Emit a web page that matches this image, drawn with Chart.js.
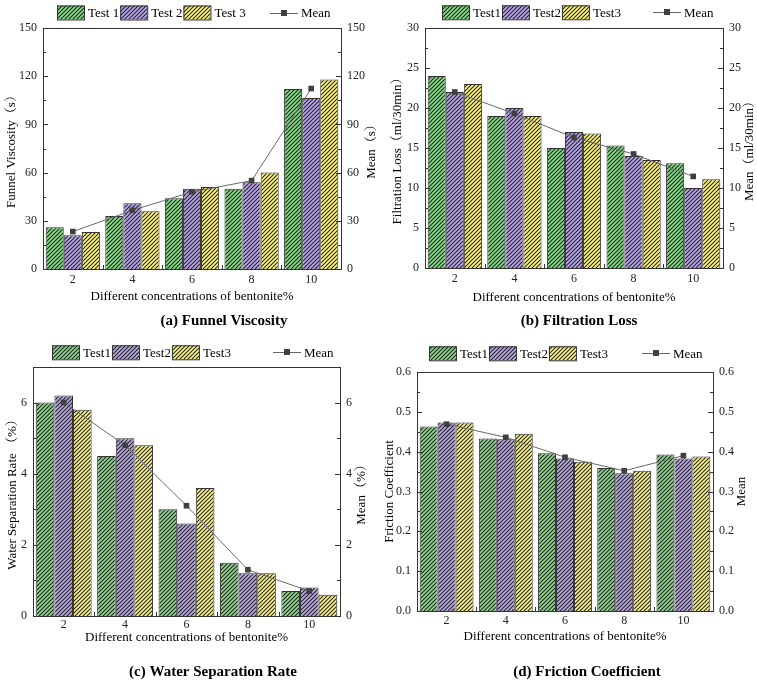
<!DOCTYPE html>
<html>
<head>
<meta charset="utf-8">
<script src="https://cdn.jsdelivr.net/npm/chart.js@4/dist/chart.umd.min.js"></script>
<style>
  body { margin: 0; background: #fff; width: 757px; height: 686px; position: relative; overflow: hidden; }
  canvas { position: absolute; }
</style>
</head>
<body>
<canvas id="chart-a" width="380" height="335" style="left:0;top:0"></canvas>
<canvas id="chart-b" width="377" height="335" style="left:380px;top:0"></canvas>
<canvas id="chart-c" width="380" height="351" style="left:0;top:335px"></canvas>
<canvas id="chart-d" width="377" height="351" style="left:380px;top:335px"></canvas>
<script>
// categorie e valori
var concentrations = ['2', '4', '6', '8', '10'];

var viscTest1 = [26, 33, 44, 50, 112];
var viscTest2 = [21, 41, 50, 54, 106.5];
var viscTest3 = [23, 36, 51, 60, 118];
var viscMean = [23.3, 36.5, 48, 55, 112.3];

var filtTest1 = [24, 19, 15, 15.3, 13.1];
var filtTest2 = [22, 20, 17, 14, 10];
var filtTest3 = [23, 19, 16.8, 13.5, 11.1];
var filtMean = [22, 19.3, 16.3, 14.25, 11.45];

var waterTest1 = [6.0, 4.5, 3.0, 1.5, 0.7];
var waterTest2 = [6.2, 5.0, 2.6, 1.2, 0.8];
var waterTest3 = [5.8, 4.8, 3.6, 1.2, 0.6];
var waterMean = [6.0, 4.8, 3.1, 1.3, 0.7];

var fricTest1 = [0.463, 0.433, 0.396, 0.359, 0.393];
var fricTest2 = [0.473, 0.431, 0.383, 0.346, 0.383];
var fricTest3 = [0.473, 0.445, 0.375, 0.352, 0.388];
var fricMean = [0.469, 0.436, 0.386, 0.352, 0.390];

// assi: min, max, passo
var viscAxis = [0, 150, 30];
var filtAxis = [0, 30, 5];
var waterAxis = [0, 7, 2];
var fricAxis = [0, 0.6, 0.1];

var testLabelsA = ['Test 1', 'Test 2', 'Test 3'];
var testLabels = ['Test1', 'Test2', 'Test3'];
var meanLabel = 'Mean';

var SERIF = "'Liberation Serif', 'Times New Roman', 'Noto Serif CJK SC', 'Noto Sans CJK SC', serif";

function hatch(color) {
    var c = document.createElement('canvas');
    c.width = 4; c.height = 4;
    var g = c.getContext('2d');
    g.fillStyle = color;
    g.fillRect(0, 0, 4, 4);
    g.strokeStyle = '#222';
    g.lineWidth = 1.05;
    g.beginPath();
    g.moveTo(0, 4); g.lineTo(4, 0);
    g.moveTo(-1, 1); g.lineTo(1, -1);
    g.moveTo(3, 5); g.lineTo(5, 3);
    g.stroke();
    return g.createPattern(c, 'repeat');
}
var fills = [hatch('#86d886'), hatch('#b8a6e8'), hatch('#fff578')];

function panelPlugin(p) {
    return {
        id: 'panel',
        afterDraw: function (chart) {
            var ctx = chart.ctx, ca = chart.chartArea;
            var y = chart.scales.y, x = chart.scales.x;
            ctx.save();
            ctx.strokeStyle = '#333';
            ctx.lineWidth = 1;
            // cornice
            ctx.strokeRect(Math.round(ca.left) + 0.5, Math.round(ca.top) + 0.5,
                Math.round(ca.right - ca.left), Math.round(ca.bottom - ca.top));
            // tacche interne
            ctx.beginPath();
            var minor = p.axis[2] / 2;
            for (var v = p.axis[0]; v <= p.axis[1] + 1e-9; v += minor) {
                var k = (v - p.axis[0]) / p.axis[2];
                var len = Math.abs(k - Math.round(k)) < 1e-6 ? 5 : 3;
                var py = Math.round(y.getPixelForValue(v)) + 0.5;
                ctx.moveTo(ca.left, py); ctx.lineTo(ca.left + len, py);
                ctx.moveTo(ca.right, py); ctx.lineTo(ca.right - len, py);
            }
            for (var i = 1; i < concentrations.length; i++) {
                var px = Math.round(x.getPixelForValue(i - 0.5)) + 0.5;
                ctx.moveTo(px, ca.bottom); ctx.lineTo(px, ca.bottom - 4);
            }
            ctx.stroke();

            // legenda
            ctx.font = '13px ' + SERIF;
            ctx.textBaseline = 'middle';
            ctx.textAlign = 'left';
            var lx = p.legend[0], ly = p.legend[1];
            for (var j = 0; j < 3; j++) {
                ctx.fillStyle = fills[j];
                ctx.fillRect(lx, ly - 7, 27, 14);
                ctx.strokeStyle = '#333';
                ctx.strokeRect(lx + 0.5, ly - 6.5, 27, 14);
                ctx.fillStyle = '#000';
                ctx.fillText(p.labels[j], lx + 31, ly + 1);
                lx += 31 + ctx.measureText(p.labels[j]).width + 1;
            }
            var mx = p.legend[2];
            ctx.strokeStyle = '#666';
            ctx.beginPath();
            ctx.moveTo(mx, Math.round(ly) + 0.5); ctx.lineTo(mx + 28, Math.round(ly) + 0.5);
            ctx.stroke();
            ctx.fillStyle = '#404040';
            ctx.fillRect(mx + 11, Math.round(ly) - 3, 6, 6);
            ctx.fillStyle = '#000';
            ctx.fillText(meanLabel, mx + 31, ly + 1);

            // titoli assi
            ctx.textAlign = 'center';
            var cy = (ca.top + ca.bottom) / 2;
            [[p.yTitle, p.yTitleX], [p.y1Title, p.y1TitleX]].forEach(function (t) {
                ctx.save();
                ctx.translate(t[1], cy);
                ctx.rotate(-Math.PI / 2);
                ctx.fillText(t[0], 0, 0);
                ctx.restore();
            });
            ctx.fillText('Different concentrations of bentonite%', (ca.left + ca.right) / 2, p.xTitleY);
            ctx.font = 'bold 15px ' + SERIF;
            ctx.fillText(p.caption, p.captionX, p.captionY);
            ctx.restore();
        }
    };
}

function makePanel(id, p) {
    var tickFont = { family: SERIF, size: 12 };
    function yScale(pos, w) {
        return {
            type: 'linear', position: pos,
            min: p.axis[0], max: p.axis[1],
            grid: { display: false, drawTicks: false }, border: { display: false },
            ticks: {
                stepSize: p.axis[2], includeBounds: false, padding: p.yPad,
                color: '#222', font: tickFont,
                callback: function (v) { return p.decimals ? v.toFixed(1) : v; }
            },
            afterFit: function (s) { s.width = w; }
        };
    }
    var datasets = [0, 1, 2].map(function (i) {
        return {
            type: 'bar', label: p.labels[i], data: p.tests[i],
            backgroundColor: fills[i], borderColor: '#333', borderWidth: 1,
            barPercentage: 1, categoryPercentage: 0.91, yAxisID: 'y', order: 1
        };
    });
    datasets.push({
        type: 'line', label: meanLabel, data: p.mean, yAxisID: 'y1', order: 0,
        borderColor: '#6a6a6a', borderWidth: 1, tension: 0,
        pointStyle: 'rect', pointRadius: 4,
        pointBackgroundColor: '#404040', pointBorderColor: '#404040', pointBorderWidth: 0
    });
    new Chart(document.getElementById(id), {
        data: { labels: concentrations, datasets: datasets },
        options: {
            responsive: false, animation: false, events: [],
            layout: { padding: { left: 0, right: 0, top: p.area[1], bottom: 0 } },
            scales: {
                x: {
                    type: 'category',
                    grid: { display: false, drawTicks: false }, border: { display: false },
                    ticks: { color: '#222', font: tickFont, padding: p.xPad, maxRotation: 0 },
                    afterFit: function (s) { s.height = p.area[3]; }
                },
                y: yScale('left', p.area[0]),
                y1: yScale('right', p.area[2])
            },
            plugins: { legend: { display: false }, tooltip: { enabled: false } }
        },
        plugins: [panelPlugin(p)]
    });
}

// area: spazio a sinistra, sopra, a destra, sotto il riquadro
makePanel('chart-a', {
    tests: [viscTest1, viscTest2, viscTest3], mean: viscMean, axis: viscAxis,
    labels: testLabelsA, area: [43, 28, 39, 66],
    yPad: 6, xPad: 4, legend: [57, 12.5, 270],
    yTitle: 'Funnel Viscosity（s）', yTitleX: 12, y1Title: 'Mean（s）', y1TitleX: 372,
    xTitleY: 297, caption: '(a) Funnel Viscosity', captionX: 224, captionY: 321
});
makePanel('chart-b', {
    tests: [filtTest1, filtTest2, filtTest3], mean: filtMean, axis: filtAxis,
    labels: testLabels, area: [45, 28, 34, 67],
    yPad: 6, xPad: 4, legend: [62, 12.3, 273],
    yTitle: 'Filtration Loss（ml/30min）', yTitleX: 18, y1Title: 'Mean（ml/30min）', y1TitleX: 370,
    xTitleY: 298, caption: '(b) Filtration Loss', captionX: 199, captionY: 321
});
makePanel('chart-c', {
    tests: [waterTest1, waterTest2, waterTest3], mean: waterMean, axis: waterAxis,
    labels: testLabels, area: [33, 32, 40, 70],
    yPad: 6, xPad: 2, legend: [52, 17.3, 273],
    yTitle: 'Water Separation Rate （%）', yTitleX: 13, y1Title: 'Mean（%）', y1TitleX: 362,
    xTitleY: 303, caption: '(c) Water Separation Rate', captionX: 213, captionY: 337
});
makePanel('chart-d', {
    tests: [fricTest1, fricTest2, fricTest3], mean: fricMean, axis: fricAxis, decimals: true,
    labels: testLabels, area: [37, 37, 44, 75],
    yPad: 6, xPad: 3, legend: [49, 18.3, 262],
    yTitle: 'Friction Coefficient', yTitleX: 10, y1Title: 'Mean', y1TitleX: 362,
    xTitleY: 302, caption: '(d) Friction Coefficient', captionX: 207, captionY: 337
});
</script>
</body>
</html>
